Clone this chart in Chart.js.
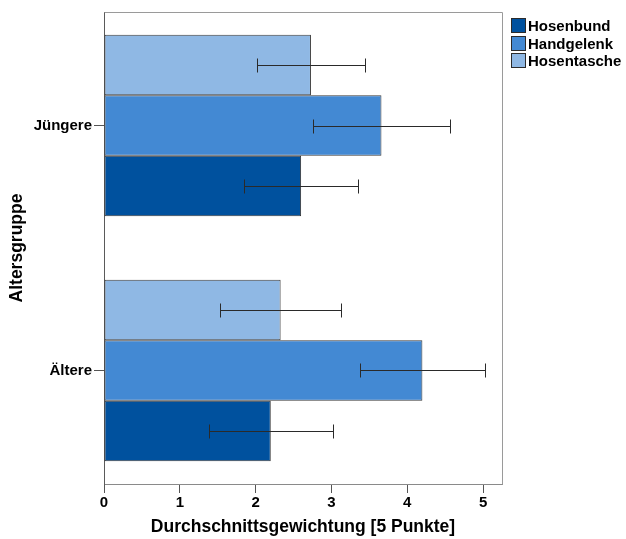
<!DOCTYPE html>
<html>
<head>
<meta charset="utf-8">
<script src="https://cdn.jsdelivr.net/npm/chart.js@4/dist/chart.umd.min.js"></script>
<style>
  html, body { margin: 0; padding: 0; background: #fff; }
  #wrap { position: relative; width: 626px; height: 539px; }
  #chart { position: absolute; left: 0; top: 0; }
  .legend { position: absolute; left: 511px; top: 18px; font: bold 15px "Liberation Sans", Arial, sans-serif; color: #000; }
  .legend .row { position: relative; height: 17.5px; }
  .legend .sw { position: absolute; left: 0; top: 0; width: 15px; height: 15px; box-sizing: border-box; border: 1px solid #2b2b2b; }
  .legend .tx { position: absolute; left: 17px; top: -1px; line-height: 17px; white-space: nowrap; }
</style>
</head>
<body>
<div id="wrap">
  <canvas id="chart" width="626" height="539"></canvas>
  <div class="legend" id="legend"></div>
</div>
<script>
// Age groups (top to bottom) and mean weighting per wearing position
const categories = ['Jüngere', 'Ältere'];
const hosenbund   = [2.60, 2.20];
const handgelenk  = [3.66, 4.20];
const hosentasche = [2.73, 2.33];
// Half-widths of the error bars
const hosenbundErr   = [0.75, 0.815];
const handgelenkErr  = [0.905, 0.82];
const hosentascheErr = [0.71, 0.80];
const xTicks = [0, 1, 2, 3, 4, 5];

const colors = {
  Hosenbund: '#00519e',
  Handgelenk: '#4389d3',
  Hosentasche: '#8fb8e4'
};

// Legend order as listed beside the plot
const legendItems = ['Hosenbund', 'Handgelenk', 'Hosentasche'];
const legendEl = document.getElementById('legend');
legendItems.forEach(name => {
  const row = document.createElement('div');
  row.className = 'row';
  row.innerHTML = '<div class="sw" style="background:' + colors[name] + '"></div><div class="tx">' + name + '</div>';
  legendEl.appendChild(row);
});

function series(values, errs) {
  return values.map((v, i) => ({ x: v, y: i, err: errs[i] }));
}

// Datasets stacked top to bottom inside each age group
const datasets = [
  { label: 'Hosentasche', data: series(hosentasche, hosentascheErr), backgroundColor: colors.Hosentasche },
  { label: 'Handgelenk',  data: series(handgelenk, handgelenkErr),   backgroundColor: colors.Handgelenk },
  { label: 'Hosenbund',   data: series(hosenbund, hosenbundErr),     backgroundColor: colors.Hosenbund }
].map(d => Object.assign(d, {
  borderColor: 'rgba(35,35,35,0.9)',
  borderWidth: 1,
  borderSkipped: false,
  categoryPercentage: 0.741,
  barPercentage: 1.0
}));

// Whiskers: mean ± half-width, drawn on top of the bars
const errorBars = {
  id: 'errorBars',
  afterDatasetsDraw(chart) {
    const ctx = chart.ctx;
    const xs = chart.scales.x;
    ctx.save();
    ctx.strokeStyle = '#2a2a2a';
    ctx.lineWidth = 1;
    chart.data.datasets.forEach((ds, di) => {
      const meta = chart.getDatasetMeta(di);
      meta.data.forEach((bar, i) => {
        const p = ds.data[i];
        const lo = Math.round(xs.getPixelForValue(p.x - p.err)) + 0.5;
        const hi = Math.round(xs.getPixelForValue(p.x + p.err)) + 0.5;
        const y = Math.round(bar.y) + 0.5;
        ctx.beginPath();
        ctx.moveTo(lo, y); ctx.lineTo(hi, y);
        ctx.moveTo(lo, y - 7); ctx.lineTo(lo, y + 7);
        ctx.moveTo(hi, y - 7); ctx.lineTo(hi, y + 7);
        ctx.stroke();
      });
    });
    ctx.restore();
  }
};

// Top and right edges of the plot frame
const frame = {
  id: 'frame',
  afterDraw(chart) {
    const { left, right, top, bottom } = chart.chartArea;
    const ctx = chart.ctx;
    ctx.save();
    ctx.strokeStyle = '#9a9a9a';
    ctx.lineWidth = 1;
    ctx.beginPath();
    ctx.moveTo(Math.round(left) + 0.5, Math.round(top) + 0.5);
    ctx.lineTo(Math.round(right) + 0.5, Math.round(top) + 0.5);
    ctx.lineTo(Math.round(right) + 0.5, Math.round(bottom) + 0.5);
    ctx.stroke();
    ctx.restore();
  }
};

Chart.defaults.font.family = '"Liberation Sans", Arial, sans-serif';
Chart.defaults.color = '#000';

new Chart(document.getElementById('chart'), {
  type: 'bar',
  data: { datasets },
  options: {
    indexAxis: 'y',
    responsive: false,
    devicePixelRatio: 1,
    animation: false,
    layout: { padding: { left: 0, right: 124, top: 12, bottom: 0 } },
    plugins: { legend: { display: false }, tooltip: { enabled: false } },
    scales: {
      x: {
        type: 'linear',
        min: 0,
        max: 5.25,
        afterBuildTicks(scale) { scale.ticks = xTicks.map(v => ({ value: v })); },
        afterFit(scale) { scale.height = 55; },
        grid: { drawOnChartArea: false, drawTicks: true, tickLength: 9, tickColor: '#555' },
        border: { display: true, color: '#8a8a8a' },
        ticks: { font: { size: 15, weight: 'bold' }, padding: 1, color: '#000' },
        title: {
          display: true,
          text: 'Durchschnittsgewichtung [5 Punkte]',
          font: { size: 17.5, weight: 'bold' },
          color: '#000',
          padding: { top: 0, bottom: 1 }
        }
      },
      y: {
        type: 'linear',
        reverse: true,
        offset: false,
        min: -0.4635,
        max: 1.4635,
        afterBuildTicks(scale) { scale.ticks = categories.map((c, i) => ({ value: i })); },
        afterFit(scale) { scale.width = 104; },
        grid: { offset: false, drawOnChartArea: false, drawTicks: true, tickLength: 10, tickColor: '#555' },
        border: { display: true, color: '#5a5a5a' },
        ticks: {
          font: { size: 15, weight: 'bold' },
          padding: 2,
          color: '#000',
          callback: v => categories[v] ?? ''
        },
        title: {
          display: true,
          text: 'Altersgruppe',
          font: { size: 17.5, weight: 'bold' },
          color: '#000',
          padding: { top: 7, bottom: 0 }
        }
      }
    }
  },
  plugins: [errorBars, frame]
});
</script>
</body>
</html>
